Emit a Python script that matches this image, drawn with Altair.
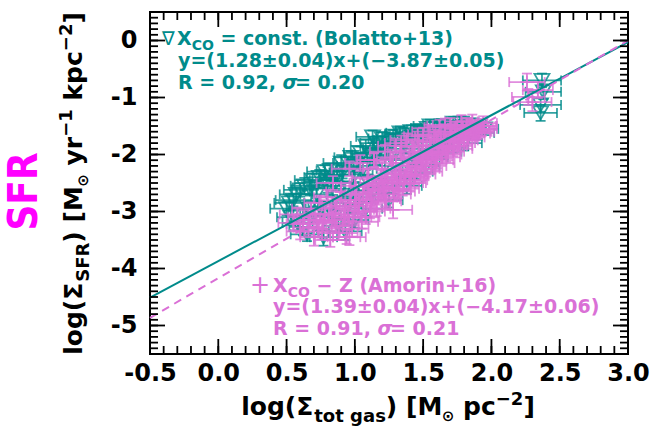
import altair as alt
import pandas as pd

# ---------------- data ----------------
x_ticks_major = [-0.5, 0.0, 0.5, 1.0, 1.5, 2.0, 2.5, 3.0]
y_ticks_major = [-5, -4, -3, -2, -1, 0]
x_ticks_minor = [round(-0.5 + 0.1 * i, 1) for i in range(36)]
y_ticks_minor = [round(-5.5 + 0.1 * i, 1) for i in range(61)]

# Bolatto+13 (X_CO = const.)  -- teal triangles
teal_x = [0.50, 0.53, 0.55, 0.58, 0.60, 0.62, 0.65, 0.66, 0.69, 0.70,
          0.72, 0.75, 0.77, 0.78, 0.80, 0.84, 0.85, 0.87, 0.88, 0.90,
          0.93, 0.93, 0.95, 0.97, 1.00, 1.00, 1.02, 1.04, 1.06, 1.08,
          1.10, 1.12, 1.13, 1.15, 1.18, 1.20, 1.22, 1.25, 1.26, 1.30,
          1.32, 1.33, 1.36, 1.38, 1.40, 1.43, 1.45, 1.47, 1.50, 1.52,
          1.53, 1.57, 1.58, 1.60, 1.64, 1.65, 1.68, 1.72, 1.72, 1.76,
          1.80, 1.80, 1.85, 1.90, 1.95, 2.37, 2.38, 2.36, 2.36,
          0.52, 0.57, 0.63, 0.67, 0.74, 0.79, 0.82, 0.86, 0.91, 0.95,
          0.99, 1.03, 1.08, 1.11, 1.16, 1.20, 1.24, 1.28, 1.35, 1.41,
          1.49, 1.55, 1.62, 1.70, 1.78]
teal_y = [-2.95, -3.10, -2.80, -3.20, -2.62, -3.27, -3.40, -2.95, -2.45, -3.05,
          -2.70, -2.95, -3.45, -2.30, -2.55, -2.85, -3.10, -2.36, -3.25, -2.15,
          -2.60, -3.35, -2.90, -2.05, -2.35, -3.15, -2.75, -1.97, -2.25, -2.95,
          -2.50, -2.70, -1.69, -2.05, -1.90, -2.55, -2.20, -2.80, -1.75, -1.95,
          -2.40, -1.62, -1.85, -2.55, -2.10, -1.70, -2.30, -1.58, -1.90, -2.20,
          -1.54, -1.75, -2.05, -1.62, -1.50, -1.95, -1.70, -1.45, -1.85, -1.60,
          -1.52, -1.80, -1.48, -1.62, -1.55, -0.70, -0.90, -1.13, -1.27,
          -2.85, -2.70, -2.55, -2.60, -2.40, -2.45, -2.28, -2.50, -2.30, -2.15,
          -2.20, -2.10, -1.85, -2.00, -1.80, -1.72, -1.90, -1.68, -1.65, -1.60,
          -1.62, -1.50, -1.55, -1.52, -1.45]
teal_xerr = [0.12, 0.10, 0.13, 0.11, 0.12, 0.10, 0.12, 0.11, 0.13, 0.10,
             0.12, 0.11, 0.10, 0.13, 0.12, 0.11, 0.10, 0.12, 0.11, 0.13,
             0.10, 0.12, 0.11, 0.12, 0.13, 0.10, 0.11, 0.12, 0.10, 0.12,
             0.11, 0.13, 0.12, 0.10, 0.12, 0.11, 0.13, 0.10, 0.12, 0.11,
             0.12, 0.10, 0.13, 0.11, 0.12, 0.10, 0.12, 0.11, 0.13, 0.10,
             0.12, 0.11, 0.10, 0.12, 0.11, 0.13, 0.10, 0.12, 0.11, 0.12,
             0.10, 0.13, 0.11, 0.12, 0.10, 0.14, 0.13, 0.15, 0.12,
             0.11, 0.12, 0.10, 0.13, 0.11, 0.12, 0.10, 0.12, 0.13, 0.11,
             0.12, 0.10, 0.11, 0.13, 0.12, 0.10, 0.11, 0.12, 0.13, 0.11,
             0.10, 0.12, 0.11, 0.12, 0.10]
teal_yerr = [0.12, 0.14, 0.11, 0.13, 0.12, 0.15, 0.12, 0.13, 0.11, 0.14,
             0.12, 0.13, 0.15, 0.11, 0.12, 0.14, 0.13, 0.11, 0.12, 0.14,
             0.13, 0.15, 0.12, 0.11, 0.13, 0.14, 0.12, 0.11, 0.13, 0.12,
             0.14, 0.12, 0.11, 0.13, 0.12, 0.14, 0.12, 0.13, 0.11, 0.12,
             0.13, 0.11, 0.12, 0.14, 0.12, 0.11, 0.13, 0.11, 0.12, 0.13,
             0.11, 0.12, 0.13, 0.11, 0.12, 0.13, 0.12, 0.11, 0.12, 0.11,
             0.12, 0.13, 0.11, 0.12, 0.11, 0.12, 0.13, 0.12, 0.14,
             0.13, 0.12, 0.14, 0.12, 0.13, 0.11, 0.12, 0.13, 0.12, 0.11,
             0.12, 0.13, 0.11, 0.12, 0.12, 0.11, 0.13, 0.11, 0.12, 0.11,
             0.12, 0.11, 0.12, 0.11, 0.12]

# Amorin+16 (X_CO - Z)  -- orchid plus markers
mag_x = [0.55, 0.58, 0.60, 0.63, 0.66, 0.68, 0.70, 0.72, 0.74, 0.76,
         0.78, 0.80, 0.82, 0.83, 0.84, 0.86, 0.88, 0.90, 0.92, 0.94,
         0.96, 0.97, 0.98, 1.00, 1.02, 1.04, 1.05, 1.06, 1.08, 1.10,
         1.12, 1.14, 1.16, 1.18, 1.20, 1.22, 1.24, 1.26, 1.28, 1.30,
         1.32, 1.34, 1.36, 1.38, 1.40, 1.42, 1.44, 1.46, 1.48, 1.50,
         1.52, 1.54, 1.56, 1.58, 1.60, 1.62, 1.64, 1.66, 1.68, 1.70,
         1.72, 1.74, 1.76, 1.78, 1.80, 1.82, 1.84, 1.86, 1.88, 1.90,
         1.92, 1.94, 1.00, 1.10, 1.20, 1.30, 1.40, 1.50, 1.60, 1.70,
         0.95, 1.15, 1.28, 0.96, 2.26, 2.27, 2.30, 2.34,
         0.62, 0.67, 0.73, 0.77, 0.81, 0.85, 0.89, 0.91, 0.93, 0.99,
         1.01, 1.03, 1.07, 1.09, 1.11, 1.13, 1.17, 1.19, 1.21, 1.23,
         1.27, 1.29, 1.31, 1.33, 1.35, 1.37, 1.39, 1.41, 1.43, 1.45,
         1.47, 1.49, 1.51, 1.53, 1.55, 1.57, 1.59, 1.61, 1.63, 1.65,
         1.67, 1.69, 1.71, 1.73, 1.75, 1.77, 1.79, 1.81, 1.83, 1.85,
         1.87, 1.89, 1.91, 1.93,
         1.14, 1.22, 1.30, 1.38, 1.46, 1.54, 1.62, 1.70, 1.78, 1.86,
         1.94, 1.34, 1.50, 1.66, 1.82]
mag_y = [-3.20, -3.05, -3.35, -3.10, -3.28, -2.95, -3.45, -3.15, -2.85, -3.35,
         -3.05, -2.75, -3.50, -3.20, -2.50, -2.90, -3.38, -2.65, -3.10, -3.45,
         -2.25, -2.80, -3.30, -2.55, -3.00, -2.15, -3.18, -2.70, -3.10, -2.40,
         -2.85, -2.10, -2.95, -2.60, -2.25, -2.78, -2.45, -2.05, -2.62, -2.35,
         -2.65, -1.95, -2.50, -2.20, -2.50, -1.85, -2.38, -2.08, -2.35, -1.78,
         -2.25, -1.98, -2.20, -1.68, -2.10, -1.88, -2.05, -1.60, -1.95, -1.78,
         -1.90, -1.55, -1.80, -1.68, -1.75, -1.50, -1.62, -1.63, -1.55, -1.60,
         -1.50, -1.50, -2.85, -2.65, -2.45, -2.15, -2.05, -1.95, -1.75, -1.65,
         -3.05, -2.50, -2.97, -3.45, -0.73, -0.99, -1.08, -0.87,
         -3.22, -3.15, -3.30, -3.18, -3.05, -3.15, -2.80, -3.25, -2.95, -3.10,
         -2.70, -2.90, -2.55, -2.80, -3.00, -2.55, -2.75, -2.40, -2.60, -2.82,
         -2.45, -2.70, -2.50, -2.30, -2.60, -2.40, -2.15, -2.35, -2.45, -2.25,
         -2.00, -2.15, -2.30, -2.05, -1.85, -2.00, -2.15, -1.95, -1.72, -1.88,
         -2.00, -1.85, -1.60, -1.75, -1.85, -1.72, -1.55, -1.62, -1.70, -1.52,
         -1.58, -1.60, -1.55, -1.55,
         -2.10, -1.95, -1.85, -1.75, -1.68, -1.60, -1.52, -1.48, -1.42, -1.42,
         -1.45, -1.80, -1.65, -1.50, -1.48]
mag_xerr = [0.11, 0.13, 0.10, 0.12, 0.11, 0.14, 0.10, 0.12, 0.11, 0.13,
            0.12, 0.10, 0.11, 0.13, 0.12, 0.10, 0.14, 0.11, 0.12, 0.10,
            0.13, 0.11, 0.12, 0.10, 0.14, 0.11, 0.12, 0.13, 0.10, 0.12,
            0.11, 0.13, 0.10, 0.12, 0.14, 0.11, 0.12, 0.10, 0.13, 0.11,
            0.12, 0.10, 0.14, 0.11, 0.12, 0.13, 0.10, 0.12, 0.11, 0.13,
            0.10, 0.12, 0.11, 0.14, 0.12, 0.10, 0.13, 0.11, 0.12, 0.10,
            0.14, 0.11, 0.12, 0.13, 0.10, 0.12, 0.11, 0.13, 0.10, 0.12,
            0.11, 0.10, 0.13, 0.12, 0.11, 0.14, 0.12, 0.10, 0.13, 0.11,
            0.12, 0.11, 0.14, 0.12, 0.13, 0.12, 0.14, 0.11,
            0.12, 0.11, 0.13, 0.10, 0.12, 0.11, 0.14, 0.12, 0.10, 0.13,
            0.11, 0.12, 0.10, 0.13, 0.11, 0.12, 0.14, 0.10, 0.12, 0.11,
            0.13, 0.12, 0.10, 0.11, 0.12, 0.14, 0.11, 0.12, 0.10, 0.13,
            0.12, 0.11, 0.13, 0.10, 0.12, 0.11, 0.14, 0.12, 0.10, 0.12,
            0.11, 0.13, 0.12, 0.10, 0.11, 0.12, 0.13, 0.11, 0.12, 0.10,
            0.12, 0.11, 0.10, 0.11,
            0.12, 0.11, 0.13, 0.12, 0.10, 0.12, 0.11, 0.13, 0.12, 0.11,
            0.10, 0.12, 0.11, 0.13, 0.12]
mag_yerr = [0.13, 0.12, 0.14, 0.12, 0.13, 0.11, 0.15, 0.12, 0.13, 0.14,
            0.12, 0.13, 0.12, 0.14, 0.12, 0.13, 0.12, 0.14, 0.13, 0.12,
            0.13, 0.12, 0.14, 0.13, 0.12, 0.14, 0.12, 0.13, 0.12, 0.14,
            0.13, 0.12, 0.13, 0.14, 0.12, 0.13, 0.12, 0.14, 0.13, 0.12,
            0.12, 0.14, 0.13, 0.12, 0.13, 0.12, 0.14, 0.13, 0.12, 0.13,
            0.14, 0.12, 0.13, 0.12, 0.14, 0.13, 0.12, 0.13, 0.12, 0.14,
            0.13, 0.12, 0.14, 0.13, 0.12, 0.13, 0.12, 0.13, 0.12, 0.13,
            0.12, 0.12, 0.14, 0.13, 0.12, 0.13, 0.14, 0.12, 0.13, 0.12,
            0.14, 0.13, 0.15, 0.14, 0.15, 0.14, 0.16, 0.14,
            0.13, 0.12, 0.14, 0.13, 0.12, 0.13, 0.14, 0.12, 0.13, 0.12,
            0.14, 0.13, 0.12, 0.13, 0.12, 0.14, 0.13, 0.12, 0.13, 0.12,
            0.13, 0.12, 0.14, 0.13, 0.12, 0.13, 0.12, 0.14, 0.12, 0.13,
            0.12, 0.13, 0.12, 0.14, 0.13, 0.12, 0.13, 0.12, 0.13, 0.12,
            0.13, 0.12, 0.14, 0.12, 0.13, 0.12, 0.13, 0.12, 0.12, 0.13,
            0.12, 0.12, 0.13, 0.12,
            0.13, 0.12, 0.13, 0.12, 0.14, 0.12, 0.13, 0.12, 0.11, 0.12,
            0.12, 0.13, 0.12, 0.13, 0.12]

# fits
fit_x = [-0.5, 3.0]
bolatto_slope, bolatto_int = 1.28, -3.87
amorin_slope, amorin_int = 1.39, -4.17

# ---------------- styling ----------------
TEAL = "#008B8B"
ORCHID = "#DA70D6"
SFR_COL = "#FF00FF"
FONT = "DejaVu Sans"
W, H = 478, 342
MAJ, MIN = 15, 8

xscale = alt.Scale(domain=[-0.5, 3.0], nice=False, zero=False)
yscale = alt.Scale(domain=[-5.5, 0.5], nice=False, zero=False)
xaxis = alt.Axis(values=x_ticks_major,
                 labelExpr="(datum.value < 0 ? '-' : '') + format(abs(datum.value), '.1f')",
                 labelFont=FONT, labelFontSize=24, labelFontWeight="bold", labelColor="black",
                 labelPadding=7, labelFlush=False, labelOverlap=False,
                 ticks=False, domain=False, grid=False, title=None)
yaxis = alt.Axis(values=y_ticks_major,
                 labelExpr="(datum.value < 0 ? '-' : '') + format(abs(datum.value), 'd')",
                 labelFont=FONT, labelFontSize=24, labelFontWeight="bold", labelColor="black",
                 labelPadding=13, labelFlush=False, labelOverlap=False,
                 ticks=False, domain=False, grid=False, title=None)


def X(f):
    return alt.X(f, type="quantitative", scale=xscale, axis=xaxis)


def Y(f):
    return alt.Y(f, type="quantitative", scale=yscale, axis=yaxis)


def series_layers(xs, ys, xe, ye, color, shape, size, op):
    df = pd.DataFrame({"x": xs, "y": ys})
    df["xlo"] = [a - b for a, b in zip(xs, xe)]
    df["xhi"] = [a + b for a, b in zip(xs, xe)]
    df["ylo"] = [a - b for a, b in zip(ys, ye)]
    df["yhi"] = [a + b for a, b in zip(ys, ye)]
    base = alt.Chart(df)
    lw = 1.8
    return [
        base.mark_rule(color=color, strokeWidth=lw, opacity=op).encode(x=X("xlo"), x2="xhi", y=Y("y")),
        base.mark_rule(color=color, strokeWidth=lw, opacity=op).encode(x=X("x"), y=Y("ylo"), y2="yhi"),
        base.mark_tick(orient="vertical", size=10, thickness=lw, color=color, opacity=op).encode(x=X("xlo"), y=Y("y")),
        base.mark_tick(orient="vertical", size=10, thickness=lw, color=color, opacity=op).encode(x=X("xhi"), y=Y("y")),
        base.mark_tick(orient="horizontal", size=10, thickness=lw, color=color, opacity=op).encode(x=X("x"), y=Y("ylo")),
        base.mark_tick(orient="horizontal", size=10, thickness=lw, color=color, opacity=op).encode(x=X("x"), y=Y("yhi")),
        base.mark_point(shape=shape, size=size, filled=False, strokeWidth=1.8, color=color, opacity=op).encode(x=X("x"), y=Y("y")),
    ]


layers = []
layers += series_layers(teal_x, teal_y, teal_xerr, teal_yerr, TEAL, "triangle-down", 225, 0.8)
layers += series_layers(mag_x, mag_y, mag_xerr, mag_yerr, ORCHID, "M-1,0L1,0M0,-1L0,1", 170, 0.8)

fit_df = pd.DataFrame({"x": fit_x,
                       "yb": [bolatto_slope * v + bolatto_int for v in fit_x],
                       "ya": [amorin_slope * v + amorin_int for v in fit_x]})
layers.append(alt.Chart(fit_df).mark_line(color=TEAL, strokeWidth=2).encode(x=X("x"), y=Y("yb")))
layers.append(alt.Chart(fit_df).mark_line(color=ORCHID, strokeWidth=2, strokeDash=[8, 6]).encode(x=X("x"), y=Y("ya")))

# inward ticks on all four sides
xt_maj = pd.DataFrame({"v": x_ticks_major})
xt_min = pd.DataFrame({"v": x_ticks_minor})
yt_maj = pd.DataFrame({"v": y_ticks_major})
yt_min = pd.DataFrame({"v": y_ticks_minor})
for d, L in ((xt_min, MIN), (xt_maj, MAJ)):
    layers.append(alt.Chart(d).mark_rule(color="black", strokeWidth=1.8).encode(x=X("v"), y=alt.value(H), y2=alt.value(H - L)))
    layers.append(alt.Chart(d).mark_rule(color="black", strokeWidth=1.8).encode(x=X("v"), y=alt.value(0), y2=alt.value(L)))
for d, L in ((yt_min, MIN), (yt_maj, MAJ)):
    layers.append(alt.Chart(d).mark_rule(color="black", strokeWidth=1.8).encode(y=Y("v"), x=alt.value(0), x2=alt.value(L)))
    layers.append(alt.Chart(d).mark_rule(color="black", strokeWidth=1.8).encode(y=Y("v"), x=alt.value(W), x2=alt.value(W - L)))

# ---------------- text helpers ----------------
ADV = {' ': 0.348, '(': 0.457, ')': 0.457, '[': 0.457, ']': 0.457, 'l': 0.343, 'o': 0.687,
       'g': 0.716, 'Σ': 0.720, 't': 0.478, 'a': 0.675, 's': 0.595, 'M': 0.974, '⊙': 0.838,
       'p': 0.716, 'c': 0.594, '−': 0.838, 'y': 0.652, 'r': 0.493, 'k': 0.665, 'S': 0.720,
       'F': 0.683, 'R': 0.770, 'X': 0.774, 'C': 0.734, 'O': 0.851, '∇': 0.838, '=': 0.838,
       ',': 0.381, '.': 0.381, 'σ': 0.66, '+': 0.838}
for dch in "0123456789":
    ADV[dch] = 0.696

dummy = pd.DataFrame({"d": [0]})


def tw(s, size):
    return sum(ADV.get(c, 0.65) for c in s) * size


def text_layer(s, x, y, size, color, weight="bold", style="normal", angle=0, align="left", font=FONT):
    return alt.Chart(dummy).mark_text(text=s, align=align, baseline="alphabetic", font=font,
                                      fontSize=size, fontWeight=weight, fontStyle=style,
                                      color=color, angle=angle).encode(x=alt.value(x), y=alt.value(y))


def chain_h(pieces, x0, y0, color):
    out = []
    x = x0
    for s, size, dy, weight, style in pieces:
        lead = len(s) - len(s.lstrip())
        out.append(text_layer(s.lstrip(), x + tw(s[:lead], size), y0 + dy, size, color, weight, style))
        x += tw(s, size)
    return out


def chain_v(pieces, x0, y0, color):
    out = []
    y = y0
    for s, size, dx, weight, style in pieces:
        lead = len(s) - len(s.lstrip())
        out.append(text_layer(s.lstrip(), x0 + dx, y - tw(s[:lead], size), size, color, weight, style, angle=270))
        y -= tw(s, size)
    return out


B, N, I = "bold", "normal", "italic"
# x title
xt_pieces = [("log(Σ", 25, 0, B, N), ("tot gas", 18, 7, B, N), (") [M", 25, 0, B, N),
             ("⊙", 15, 6, B, N), (" pc", 25, 0, B, N), ("−2", 18, -10, B, N), ("]", 25, 0, B, N)]
xt_total = sum(tw(p[0], p[1]) for p in xt_pieces)
layers += chain_h(xt_pieces, 238 - xt_total / 2, 403, "black")

# y title
yt_pieces = [("log(Σ", 25, 0, B, N), ("SFR", 18, 7, B, N), (") [M", 25, 0, B, N),
             ("⊙", 15, 6, B, N), (" yr", 25, 0, B, N), ("−1", 18, -10, B, N),
             (" kpc", 25, 0, B, N), ("−2", 18, -10, B, N), ("]", 25, 0, B, N)]
yt_total = sum(tw(p[0], p[1]) for p in yt_pieces)
layers += chain_v(yt_pieces, -68, 171.5 + yt_total / 2, "black")

# SFR label
layers.append(text_layer("SFR", -113, 179.5, 40, SFR_COL, angle=270, align="center",
                         font="Liberation Sans Narrow, DejaVu Sans Condensed, DejaVu Sans"))

# legend texts (teal)
LF = 19
layers.append(text_layer("∇", 12, 33, LF, TEAL, weight="normal"))
layers += chain_h([("X", LF, 0, B, N), ("CO", 14, 5, B, N), (" = const. (Bolatto+13)", LF, 0, B, N)], 27, 33, TEAL)
layers.append(text_layer("y=(1.28±0.04)x+(−3.87±0.05)", 28, 55, LF, TEAL))
layers += chain_h([("R = 0.92, ", LF, 0, B, N), ("σ", LF, 0, B, I), ("= 0.20", LF, 0, B, N)], 28, 77, TEAL)

# legend texts (orchid)
layers.append(text_layer("+", 100, 281, 24, ORCHID, weight="normal"))
layers += chain_h([("X", LF, 0, B, N), ("CO", 14, 5, B, N), (" − Z (Amorin+16)", LF, 0, B, N)], 123, 280, ORCHID)
layers.append(text_layer("y=(1.39±0.04)x+(−4.17±0.06)", 123, 301, LF, ORCHID))
layers += chain_h([("R = 0.91, ", LF, 0, B, N), ("σ", LF, 0, B, I), ("= 0.21", LF, 0, B, N)], 123, 323, ORCHID)

chart = alt.layer(*layers).properties(
    width=W, height=H,
    autosize=alt.AutoSizeParams(type="none"),
    padding={"left": 150, "top": 12, "right": 25, "bottom": 73},
    background="white",
).configure_view(stroke="black", strokeWidth=2)

chart.save("out.html", embed_options={"renderer": "svg", "actions": False})
